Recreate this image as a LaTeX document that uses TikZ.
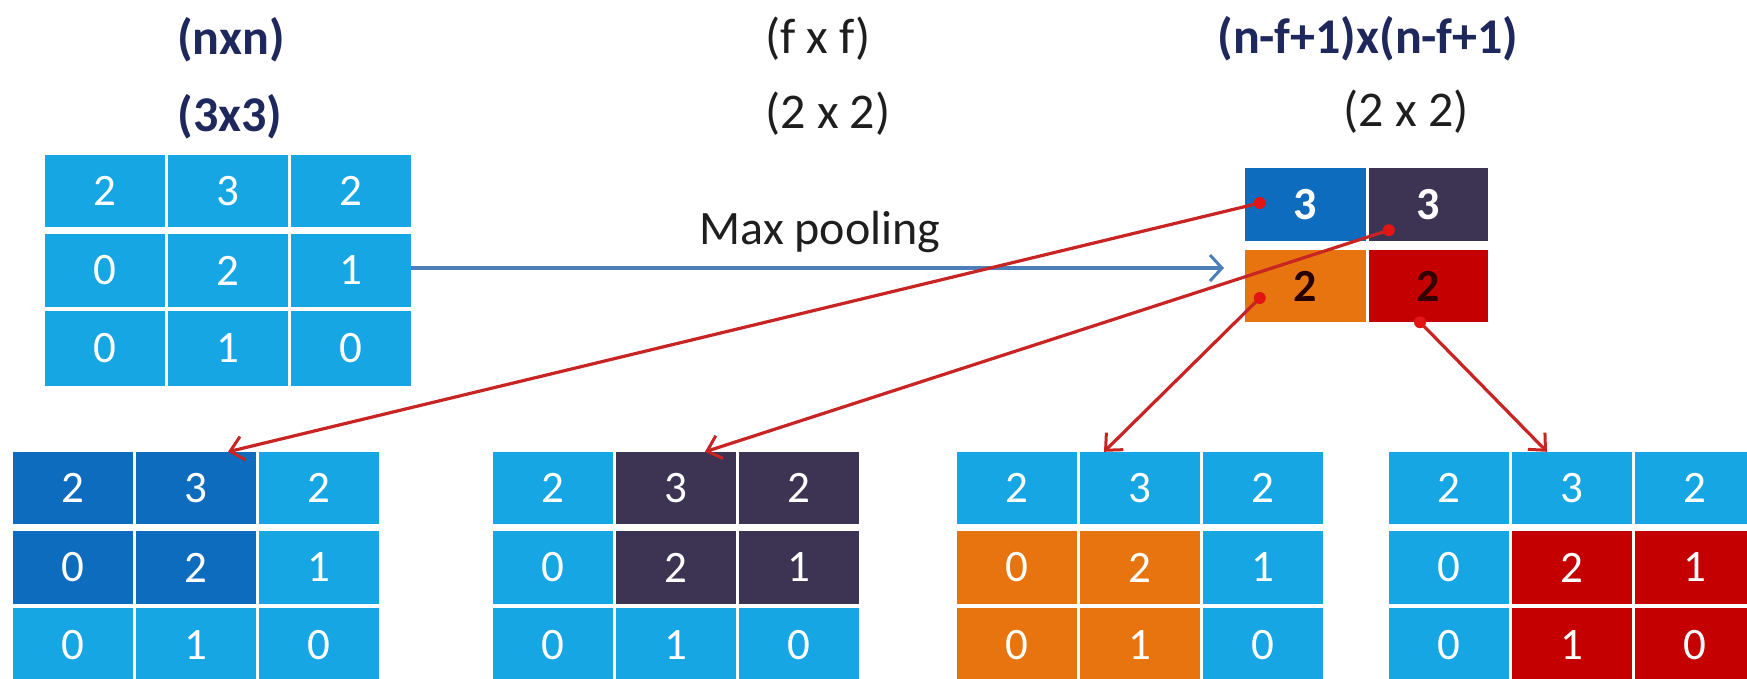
\documentclass[tikz,border=0pt]{standalone}
\usepackage{fontspec}
\setmainfont{Carlito}
\usetikzlibrary{arrows.meta,calc}

\definecolor{cellblue}{RGB}{22,166,228}
\definecolor{deepblue}{RGB}{14,108,190}
\definecolor{plum}{RGB}{60,52,82}
\definecolor{amber}{RGB}{232,116,16}
\definecolor{crimson}{RGB}{196,0,0}
\definecolor{navy}{RGB}{30,40,92}
\definecolor{ink}{RGB}{30,30,30}
\definecolor{steel}{RGB}{78,126,184}
\definecolor{linkred}{RGB}{200,36,36}
\definecolor{dotred}{RGB}{226,20,20}

\tikzset{
  cell/.style={draw=none, inner sep=0pt, minimum width=120pt, text=white,
    font=\fontsize{45}{54}\selectfont},
  outcell/.style={draw=none, inner sep=0pt, font=\fontsize{46}{54}\selectfont\bfseries},
  hbold/.style={anchor=base, text=navy, inner sep=0pt, font=\fontsize{50}{60}\selectfont\bfseries},
  hplain/.style={anchor=base, text=ink, inner sep=0pt, font=\fontsize{50}{60}\selectfont},
  poolarrow/.style={draw=steel, line width=3.4pt, -{Straight Barb[length=12pt,width=26pt,line width=3pt]}},
  redlink/.style={draw=linkred, line width=3.2pt, -{Straight Barb[length=13pt,width=24pt,line width=3pt]}},
  reddot/.style={fill=dotred}
}

% 3x3 grid of numbered cells: #1 name, #2 left edge, #3 top edge, #4 value/colour list
\newcommand\numgrid[4]{%
  \foreach \val/\tone [count=\k from 0] in {#4} {
    \pgfmathtruncatemacro\rowi{div(\k,3)}
    \pgfmathtruncatemacro\coli{mod(\k,3)}
    \pgfmathsetmacro\cx{#2+60+123*\coli}
    \ifcase\rowi \def\cy{36}\def\hh{72}\or \def\cy{115.5}\def\hh{73}\or \def\cy{193.5}\def\hh{75}\fi
    \pgfmathtruncatemacro\rr{\rowi+1}
    \pgfmathtruncatemacro\qq{\coli+1}
    \node[cell, fill=\tone, minimum height=\hh pt] (#1-\rr-\qq) at (\cx,#3+\cy) {\val};
  }%
}

\begin{document}
\begin{tikzpicture}[x=1pt, y=-1pt]
\useasboundingbox (0,0) rectangle (1747,678);
\clip (0,0) rectangle (1747,678);
\fill[white] (0,0) rectangle (1747,678);

% headings
\node[hbold]  (hn)  at (231,54)  {(nxn)};
\node[hbold]  (h3)  at (230,131) {(3x3)};
\node[hplain, anchor=base west] (hf) at (765,53)  {(f x f)};
\node[hplain, anchor=base west] (h2) at (765,128) {(2 x 2)};
\node[hbold]  (ho)  at (1368,53) {(n-f+1)x(n-f+1)};
\node[hplain] (ho2) at (1406,126) {(2 x 2)};

% input matrix
\numgrid{t}{45}{155}{2/cellblue,3/cellblue,2/cellblue,0/cellblue,2/cellblue,1/cellblue,0/cellblue,1/cellblue,0/cellblue}

% pooled output
\node[outcell, fill=deepblue, text=white, minimum width=121pt, minimum height=73pt] (out-1-1) at (1305.5,204.5) {3};
\node[outcell, fill=plum,     text=white, minimum width=119pt, minimum height=73pt] (out-1-2) at (1428.5,204.5) {3};
\node[outcell, fill=amber,    text=black!85!red, minimum width=121pt, minimum height=72pt] (out-2-1) at (1305.5,286) {2};
\node[outcell, fill=crimson,  text=black!80!red, minimum width=119pt, minimum height=72pt] (out-2-2) at (1428.5,286) {2};

% pooling step
\node[hplain, font=\fontsize{48}{58}\selectfont] (mp) at (820,244) {Max pooling};
\coordinate (poolend) at (1224,268);
\draw[poolarrow] (t-2-3.east |- poolend) -- (poolend);

% the four pooling windows
\numgrid{ga}{13}{452}{2/deepblue,3/deepblue,2/cellblue,0/deepblue,2/deepblue,1/cellblue,0/cellblue,1/cellblue,0/cellblue}
\numgrid{gb}{493}{452}{2/cellblue,3/plum,2/plum,0/cellblue,2/plum,1/plum,0/cellblue,1/cellblue,0/cellblue}
\numgrid{gc}{957}{452}{2/cellblue,3/cellblue,2/cellblue,0/amber,2/amber,1/cellblue,0/amber,1/amber,0/cellblue}
\numgrid{gd}{1389}{452}{2/cellblue,3/cellblue,2/cellblue,0/cellblue,2/crimson,1/crimson,0/cellblue,1/crimson,0/crimson}

% links from each pooled value back to its window
\coordinate (p1) at ($(out-1-1.west)+(15,-1.5)$);
\coordinate (p2) at ($(out-1-2.south west)+(20,-11)$);
\coordinate (p3) at ($(out-2-1.west)+(15,12)$);
\coordinate (p4) at ($(out-2-2.south)+(-8.5,0)$);
\coordinate (q1) at ($(ga-1-2.north)+(32,0)$);
\coordinate (q2) at ($(gb-1-2.north)+(29,0)$);
\coordinate (q3) at ($(gc-1-2.north)+(-36,0)$);
\coordinate (q4) at ($(gd-1-2.north)+(-25,0)$);

\draw[redlink] (p1) -- (q1);
\draw[redlink] (p2) -- (q2);
\draw[redlink] (p3) -- (q3);
\draw[redlink] (p4) -- (q4);
\foreach \p in {p1,p2,p3,p4} \fill[reddot] (\p) circle [radius=6pt];
\end{tikzpicture}
\end{document}
